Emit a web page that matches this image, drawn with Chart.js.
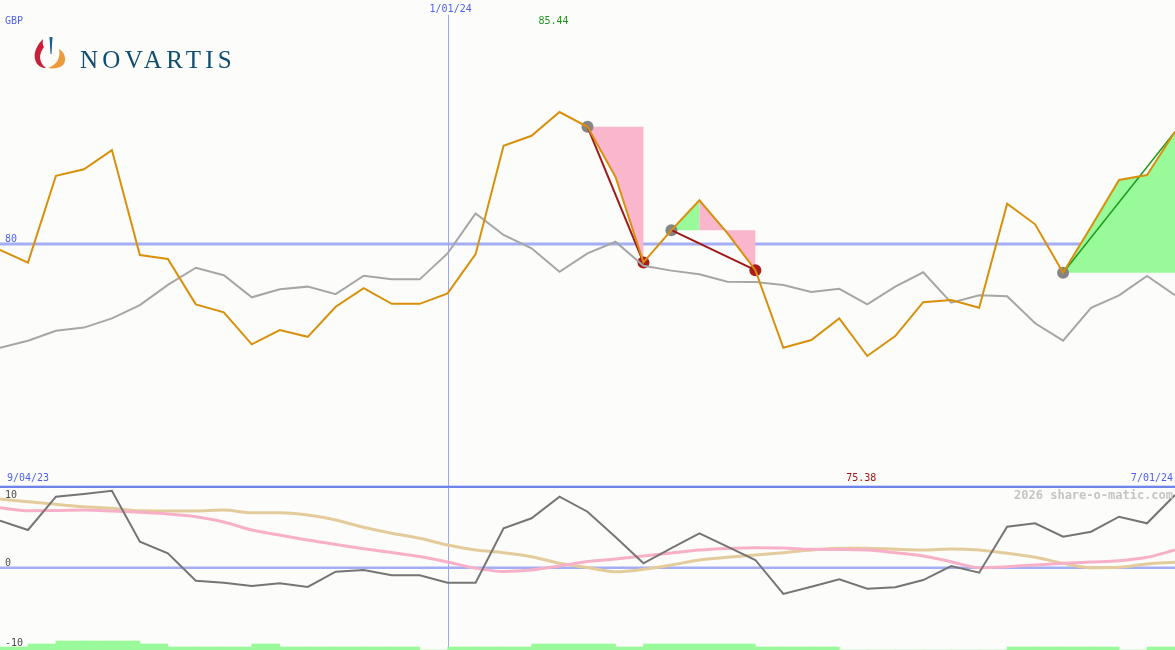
<!DOCTYPE html>
<html>
<head>
<meta charset="utf-8">
<title>Novartis GBP</title>
<script src="https://cdn.jsdelivr.net/npm/chart.js@4.4.1/dist/chart.umd.min.js"></script>
<style>
  html, body { margin: 0; padding: 0; background: #fcfdfa; }
  #wrap { position: relative; width: 1175px; height: 650px; overflow: hidden; }
  #priceBox { position: absolute; left: 0; top: 0; width: 1175px; height: 485px; }
  #oscBox { position: absolute; left: 0; top: 485px; width: 1175px; height: 165px; }
  #logoMark { position: absolute; left: 34px; top: 36px; }
  #logoText { position: absolute; left: 80px; top: 47px; font-family: "Liberation Serif", serif;
              font-size: 25px; line-height: 25px; letter-spacing: 4.3px; color: #114d6f; }
</style>
</head>
<body>
<div id="wrap">
  <div id="priceBox"><canvas id="priceChart" width="1175" height="485"></canvas></div>
  <div id="oscBox"><canvas id="oscChart" width="1175" height="165"></canvas></div>
  <svg id="logoMark" width="34" height="34" viewBox="0 0 34 34">
    <path d="M9,3 C1,11 -1,20 2,26 C4,30 8,32 12,32 C5,27 4,19 10,11 C8,8 9,5 9,3 Z" fill="#c8203a"/>
    <path d="M25,13 C32,17 33,26 28,30 C25,32 19,33 14,32 C22,29 27,23 25,13 Z" fill="#ee9a3a"/>
    <path d="M15.5,1 L18.5,1 L17.5,18 L16.5,18 Z" fill="#1b5f8c"/>
  </svg>
  <div id="logoText">NOVARTIS</div>
</div>
<script>
// Weekly closing price (GBP) and its moving average
const price = [79.75, 79.23, 82.81, 83.08, 83.87, 79.54, 79.38, 77.51, 77.18, 75.86,
  76.45, 76.17, 77.41, 78.18, 77.53, 77.53, 77.96, 79.58, 84.05, 84.46,
  85.44, 84.83, 82.77, 79.24, 80.57, 81.80, 80.45, 78.92, 75.72, 76.04,
  76.93, 75.38, 76.20, 77.60, 77.69, 77.37, 81.66, 80.81, 78.81, 80.71,
  82.64, 82.84, 84.63];
const average = [75.72, 76.01, 76.42, 76.55, 76.93, 77.48, 78.31, 79.02, 78.71, 77.80,
  78.13, 78.24, 77.93, 78.69, 78.54, 78.54, 79.61, 81.26, 80.37, 79.82,
  78.85, 79.61, 80.09, 79.10, 78.90, 78.75, 78.44, 78.43, 78.31, 78.02,
  78.15, 77.51, 78.24, 78.83, 77.58, 77.88, 77.84, 76.73, 76.01, 77.37,
  77.88, 78.68, 77.89];

// Lower panel oscillators
const momentum = [6.94, 5.57, 10.49, 10.89, 11.37, 3.84, 2.13, -1.92, -2.22, -2.70,
  -2.30, -2.85, -0.59, -0.34, -1.12, -1.12, -2.22, -2.22, 5.82, 7.30,
  10.49, 8.27, 4.53, 0.65, 2.91, 5.08, 3.10, 1.14, -3.88, -2.81,
  -1.71, -3.10, -2.90, -1.82, 0.25, -0.74, 6.06, 6.56, 4.58, 5.32,
  7.53, 6.56, 10.74];
const fastLine = [8.86, 8.42, 8.45, 8.52, 8.38, 8.18, 7.93, 7.53, 6.75, 5.57,
  4.83, 4.09, 3.43, 2.81, 2.25, 1.65, 0.84, -0.09, -0.56, -0.34,
  0.25, 0.92, 1.29, 1.73, 2.17, 2.61, 2.84, 2.95, 2.91, 2.72,
  2.69, 2.61, 2.22, 1.73, 0.89, 0, 0.15, 0.40, 0.65, 0.84,
  1.03, 1.54, 2.61];
const slowLine = [10.15, 9.75, 9.36, 9.01, 8.77, 8.42, 8.38, 8.38, 8.52, 8.12,
  8.12, 7.78, 7.05, 5.97, 5.08, 4.34, 3.35, 2.61, 2.22, 1.62,
  0.65, 0.03, -0.59, -0.24, 0.40, 1.14, 1.54, 1.88, 2.22, 2.61,
  2.87, 2.87, 2.72, 2.61, 2.76, 2.61, 2.13, 1.54, 0.65, 0,
  0.06, 0.55, 0.80];
// Strength bars, one per week interval
const strength = [1, 2, 3, 3, 3, 2, 1, 1, 1, 2, 1, 1, 1, 1, 1, 0, 1, 1, 1, 2,
  2, 2, 1, 2, 2, 2, 2, 1, 1, 1, 0, 0, 0, 0, 0, 0, 1, 1, 1, 1, 0, 1];

// Labels and reference levels
const currency = 'GBP';
const priceRef = 80;
const oscTicks = [10, 0, -10];
const dateStart = '9/04/23';
const dateEnd = '7/01/24';
const yearMark = { label: '1/01/24', index: 16 };
const watermark = '2026 share-o-matic.com';

// Trade signals (week indices) and shaded moves
const trades = [
  { start: 21, end: 23, dir: 'down' },
  { start: 24, end: 27, dir: 'down' },
  { start: 38, end: 42, dir: 'up' }
];
const shades = [
  { from: 21, to: 23, base: 21, kind: 'fall' },
  { from: 24, to: 25, base: 24, kind: 'rise' },
  { from: 25, to: 27, base: 24, kind: 'fall' },
  { from: 38, to: 42, base: 38, kind: 'rise' }
];

const MONO = '"DejaVu Sans Mono", monospace';
const pts = (arr) => arr.map((v, i) => ({ x: i, y: v }));

// Build marker points: grey at trade start, red at a closed down trade
const markerPts = [];
const markerCols = [];
trades.forEach(t => {
  markerPts.push({ x: t.start, y: price[t.start] });
  markerCols.push('#858585');
  if (t.dir === 'down') {
    markerPts.push({ x: t.end, y: price[t.end] });
    markerCols.push('#aa1c1c');
  }
});

const tradeSets = trades.map(t => ({
  data: [{ x: t.start, y: price[t.start] }, { x: t.end, y: price[t.end] }],
  borderColor: t.dir === 'down' ? '#a01818' : '#1f9a1f',
  borderWidth: t.dir === 'down' ? 2 : 1.5,
  order: 2
}));

const maxIdx = price.indexOf(Math.max(...price));
const minIdx = price.indexOf(Math.min(...price));

function text(ctx, str, x, y, color, align, font) {
  ctx.font = font || ('10px ' + MONO);
  ctx.fillStyle = color;
  ctx.textAlign = align || 'left';
  ctx.textBaseline = 'middle';
  ctx.fillText(str, x, y);
}

const priceDecor = {
  id: 'priceDecor',
  beforeDatasetsDraw(chart) {
    const { ctx, chartArea, scales: { x, y } } = chart;
    ctx.save();
    const yRef = y.getPixelForValue(priceRef);
    ctx.strokeStyle = '#a3aef3';
    ctx.lineWidth = 3;
    ctx.beginPath();
    ctx.moveTo(chartArea.left, yRef);
    ctx.lineTo(chartArea.right, yRef);
    ctx.stroke();

    const xYear = Math.round(x.getPixelForValue(yearMark.index)) + 0.5;
    ctx.strokeStyle = '#9ba6f8';
    ctx.lineWidth = 1;
    ctx.beginPath();
    ctx.moveTo(xYear, 15);
    ctx.lineTo(xYear, chartArea.bottom);
    ctx.stroke();

    shades.forEach(s => {
      ctx.fillStyle = s.kind === 'rise' ? '#98fa98' : '#f9b6cc';
      ctx.beginPath();
      for (let i = s.from; i <= s.to; i++) {
        const px = x.getPixelForValue(i);
        const py = y.getPixelForValue(price[i]);
        if (i === s.from) ctx.moveTo(px, py); else ctx.lineTo(px, py);
      }
      ctx.lineTo(x.getPixelForValue(s.to), y.getPixelForValue(price[s.base]));
      ctx.lineTo(x.getPixelForValue(s.from), y.getPixelForValue(price[s.base]));
      ctx.closePath();
      ctx.fill();
    });
    ctx.restore();
  },
  afterDraw(chart) {
    const { ctx, chartArea, scales: { x, y } } = chart;
    ctx.save();
    text(ctx, currency, 5, 21, '#4d5ff5');
    text(ctx, yearMark.label, x.getPixelForValue(yearMark.index) + 3, 9, '#4d5ff5', 'center');
    text(ctx, price[maxIdx].toFixed(2), x.getPixelForValue(maxIdx) - 6, 21, '#1e961e', 'center');
    text(ctx, String(priceRef), 5, y.getPixelForValue(priceRef) - 5, '#4d5ff5');
    text(ctx, dateStart, 7, chartArea.bottom - 7, '#4d5ff5');
    text(ctx, price[minIdx].toFixed(2), x.getPixelForValue(minIdx) - 6, chartArea.bottom - 7, '#a01515', 'center');
    text(ctx, dateEnd, chartArea.right - 2, chartArea.bottom - 7, '#4d5ff5', 'right');
    ctx.restore();
  }
};

const oscDecor = {
  id: 'oscDecor',
  beforeDatasetsDraw(chart) {
    const { ctx, chartArea, scales: { x, y } } = chart;
    ctx.save();
    const y0 = y.getPixelForValue(0);
    ctx.strokeStyle = '#a3aef3';
    ctx.lineWidth = 2.5;
    ctx.beginPath();
    ctx.moveTo(chartArea.left, y0);
    ctx.lineTo(chartArea.right, y0);
    ctx.stroke();

    const xYear = Math.round(x.getPixelForValue(yearMark.index)) + 0.5;
    ctx.strokeStyle = '#9ba6f8';
    ctx.lineWidth = 1;
    ctx.beginPath();
    ctx.moveTo(xYear, chartArea.top);
    ctx.lineTo(xYear, chartArea.bottom);
    ctx.stroke();

    // panel separator
    ctx.fillStyle = '#6f84ea';
    ctx.fillRect(chartArea.left, 0.7, chartArea.right - chartArea.left, 2.3);
    ctx.restore();
  },
  afterDraw(chart) {
    const { ctx, chartArea, scales: { y } } = chart;
    ctx.save();
    oscTicks.forEach((t, i) => {
      const ty = i === oscTicks.length - 1 ? chartArea.bottom - 7 : y.getPixelForValue(t) - 4.5;
      text(ctx, String(t), 5, ty, '#4a4a4a');
    });
    text(ctx, watermark, chartArea.right - 2, 11, '#c4c4c4', 'right', 'bold 12px ' + MONO);
    ctx.restore();
  }
};

const baseOptions = (yScales) => ({
  responsive: false,
  animation: false,
  layout: { padding: 0, autoPadding: false },
  plugins: { legend: { display: false }, tooltip: { enabled: false } },
  elements: { point: { radius: 0 }, line: { tension: 0 } },
  scales: Object.assign({
    x: { type: 'linear', min: 0, max: price.length - 1, offset: false, display: false }
  }, yScales)
});

new Chart(document.getElementById('priceChart'), {
  type: 'line',
  data: {
    datasets: [
      { data: pts(price), borderColor: '#d8900c', borderWidth: 2, order: 1 },
      ...tradeSets,
      { data: pts(average), borderColor: '#a6a6a6', borderWidth: 2, order: 3 },
      { data: markerPts, showLine: false, pointRadius: 6, pointBorderWidth: 0,
        pointBackgroundColor: markerCols, order: 5 }
    ]
  },
  options: baseOptions({ y: { min: 70.06, max: 90.06, display: false } }),
  plugins: [priceDecor]
});

new Chart(document.getElementById('oscChart'), {
  type: 'line',
  data: {
    datasets: [
      { data: pts(momentum), borderColor: '#757575', borderWidth: 2, order: 1 },
      { data: pts(fastLine), borderColor: '#f7b0c7', borderWidth: 3, order: 2,
        cubicInterpolationMode: 'monotone' },
      { data: pts(slowLine), borderColor: '#e3cb9c', borderWidth: 3, order: 3,
        cubicInterpolationMode: 'monotone' },
      { type: 'bar', yAxisID: 'yBar', data: strength.map((v, i) => ({ x: i + 0.5, y: v })),
        backgroundColor: '#98fa98', borderWidth: 0, barPercentage: 1, categoryPercentage: 1,
        order: 4 }
    ]
  },
  options: baseOptions({
    y: { min: -12.16, max: 12.22, display: false },
    yBar: { min: 0, max: 55, display: false }
  }),
  plugins: [oscDecor]
});
</script>
</body>
</html>
